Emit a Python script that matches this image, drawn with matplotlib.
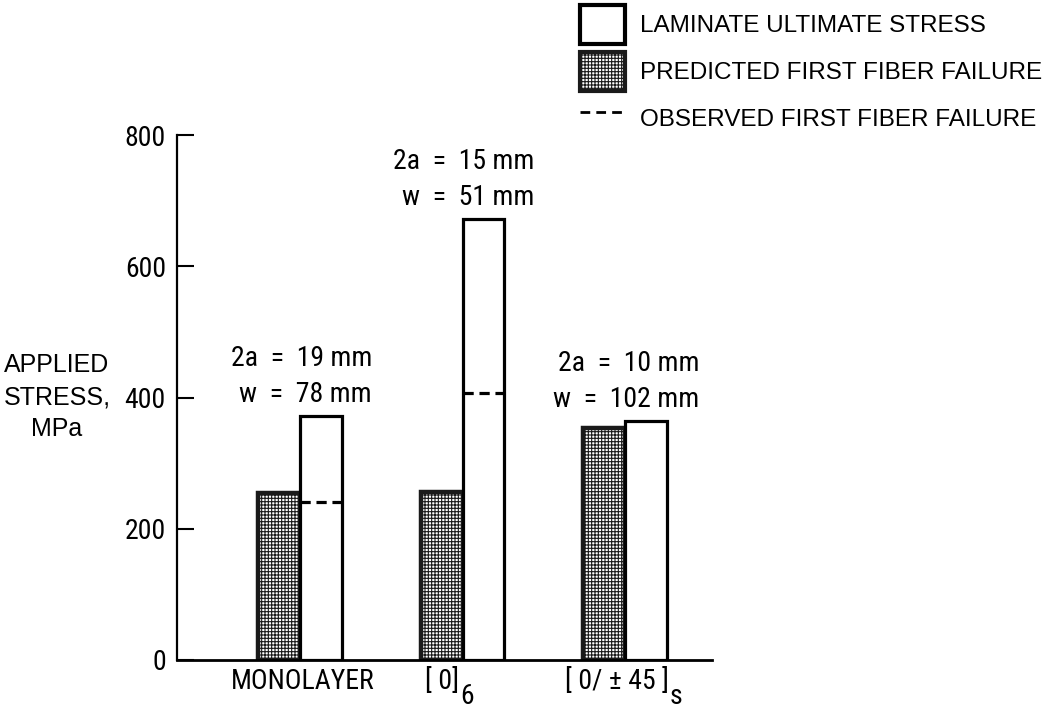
import matplotlib
matplotlib.use("Agg")
import matplotlib.pyplot as plt
from matplotlib.patches import Patch
from matplotlib.lines import Line2D
from matplotlib import font_manager
import numpy as np

# ---- data ----
categories = ["MONOLAYER", "[ 0]", "[ 0/ ± 45 ]"]
cat_subscripts = ["", "6", "s"]
predicted_first_fiber = [255, 256, 353]
laminate_ultimate = [372, 672, 364]
observed_first_fiber = [241, 407, None]
notes_2a = ["2a  =  19 mm", "2a  =  15 mm", "2a  =  10 mm"]
notes_w = ["w  =  78 mm", "w  =  51 mm", "w  =  102 mm"]
y_ticks = [0, 200, 400, 600, 800]
legend_labels = ["LAMINATE ULTIMATE STRESS", "PREDICTED FIRST FIBER FAILURE",
                 "OBSERVED FIRST FIBER FAILURE"]

# layout tweaks (points) for the hand-lettered category labels
label_dx = [2, -15, -6]

# ---- font choice: condensed face if one is installed ----
fl = font_manager.fontManager.ttflist
names = {f.name for f in fl}
narrow_kw = {"family": "Liberation Sans"}
for cand in ["Liberation Sans Narrow", "DejaVu Sans Condensed", "Roboto Condensed",
             "Open Sans Condensed", "Noto Sans Condensed"]:
    if cand in names:
        narrow_kw = {"family": cand}
        break
else:
    if any(f.name == "DejaVu Sans" and f.stretch in ("condensed", "semi-condensed", 600, 700)
           for f in fl) or any("Condensed" in f.fname and "DejaVu" in f.fname for f in fl):
        narrow_kw = {"family": "DejaVu Sans", "stretch": "condensed"}
    elif any(f.name == "Roboto" and "Condensed" in f.fname for f in fl):
        narrow_kw = {"family": "Roboto", "stretch": "condensed"}
is_narrow = narrow_kw["family"] != "Liberation Sans"
NS = 20 if is_narrow else 18.5
wide = "Liberation Sans"

plt.rcParams["hatch.linewidth"] = 0.8

fig = plt.figure(figsize=(10.59, 7.14), dpi=100)
ax = fig.add_axes([177/1059, 1-660/714, (712-177)/1059, (660-135)/714])

x = np.arange(len(categories))
bw = 0.258

ax.bar(x - bw/2, predicted_first_fiber, width=bw, facecolor="white",
       edgecolor="#1a1a1a", hatch="+++++", linewidth=3.2, zorder=2)
ax.bar(x + bw/2, laminate_ultimate, width=bw, facecolor="white",
       edgecolor="black", linewidth=2.3, zorder=2)
for xi, ob in zip(x, observed_first_fiber):
    if ob is not None:
        ax.hlines(ob, xi, xi + bw, colors="black", linewidth=2.3,
                  linestyles=(0, (3.2, 1.8)), zorder=3)

for xi, top, a, w in zip(x, laminate_ultimate, notes_2a, notes_w):
    ax.annotate(a + "\n" + w, (xi, top), xytext=(1, 6), textcoords="offset points",
                ha="center", va="bottom", fontsize=NS, linespacing=1.42,
                multialignment="right", **narrow_kw)

ax.set_xlim(-0.757, 2.535)
ax.set_ylim(0, 800)
ax.set_yticks(y_ticks)
ax.set_yticklabels([str(t) for t in y_ticks], fontsize=NS, **narrow_kw)
ax.tick_params(axis="y", direction="in", length=12, width=1.5, pad=8)
ax.set_xticks([])
for s in ["top", "right"]:
    ax.spines[s].set_visible(False)
ax.spines["left"].set_linewidth(1.6)
ax.spines["bottom"].set_linewidth(2.0)

tr = ax.get_xaxis_transform()
for xi, lab, sub, dx in zip(x, categories, cat_subscripts, label_dx):
    t = ax.annotate(lab, (xi, 0), xycoords=tr, xytext=(dx, -6),
                    textcoords="offset points", ha="center", va="top",
                    fontsize=NS, **narrow_kw)
    if sub:
        ax.annotate(sub, (1, 0.45), xycoords=t, xytext=(1, 0),
                    textcoords="offset points", ha="left", va="top",
                    fontsize=NS, **narrow_kw)

fig.text(57/1059, 1-397/714, "APPLIED\nSTRESS,\nMPa", ha="center", va="center",
         fontsize=18, family=wide, linespacing=1.4)

handles = [Patch(facecolor="white", edgecolor="black", linewidth=3.0),
           Patch(facecolor="white", edgecolor="#1a1a1a", hatch="+++++", linewidth=3.0),
           Line2D([0], [0], color="black", linestyle=(0, (3.5, 2.2)), linewidth=2.0)]
fig.legend(handles, legend_labels, loc="upper left",
           bbox_to_anchor=(580/1059, 1-5/714), frameon=False, borderpad=0,
           borderaxespad=0, handlelength=1.85, handleheight=2.12,
           handletextpad=0.6, labelspacing=0.3,
           prop={"family": wide, "size": 17.5})

fig.savefig("out.png", dpi=100)
